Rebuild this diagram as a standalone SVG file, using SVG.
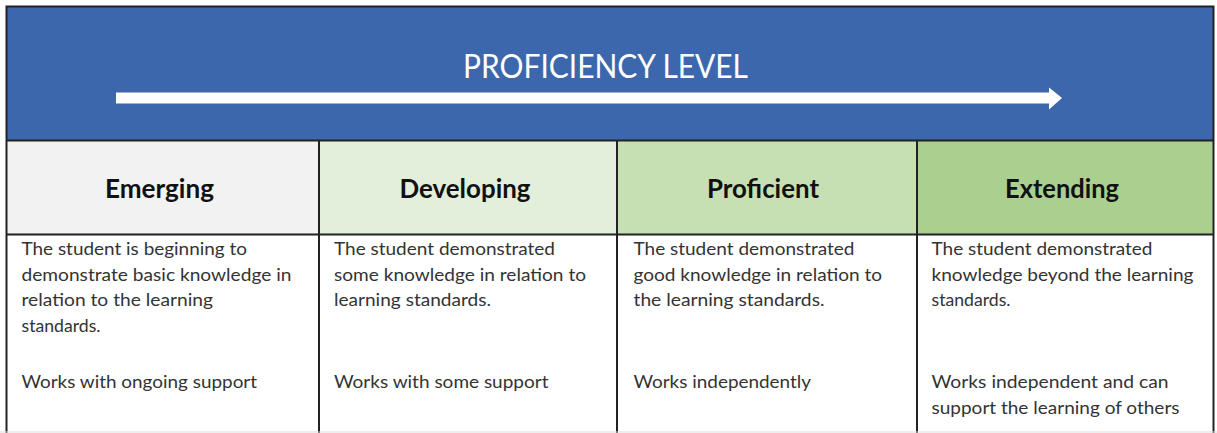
<svg xmlns="http://www.w3.org/2000/svg" width="1217" height="433" viewBox="0 0 1217 433">
  <style>
    .title { font-family: Lato, "Liberation Sans", sans-serif; font-size: 32px; fill: #ffffff; }
    .head { font-family: Lato, "Liberation Sans", sans-serif; font-size: 26px; font-weight: bold; fill: #111111; text-anchor: start; }
    .body { font-family: Lato, "Liberation Sans", sans-serif; font-size: 17px; fill: #333333; }
    .rule { stroke: #222222; stroke-width: 2; fill: none; }
  </style>
  <rect x="0" y="0" width="1217" height="433" fill="#ffffff"/>

  <g id="banner">
    <rect x="7" y="7" width="1206" height="133" fill="#3d67ad"/>
    <text class="title" x="463" y="78" textLength="285" lengthAdjust="spacingAndGlyphs">PROFICIENCY LEVEL</text>
  </g>

  <g id="arrow">
    <polygon points="116,92.5 1049,92.5 1049,87.5 1062,98 1049,109.5 1049,103.5 116,103.5" fill="#ffffff"/>
  </g>

  <g id="emerging">
    <rect x="7" y="140" width="312" height="94" fill="#f2f2f2"/>
    <text class="head" x="105" y="198" textLength="109" lengthAdjust="spacingAndGlyphs">Emerging</text>
    <text class="body" x="21.5" y="255" textLength="225.5" lengthAdjust="spacingAndGlyphs">The student is beginning to</text>
    <text class="body" x="21.5" y="280.5" textLength="270" lengthAdjust="spacingAndGlyphs">demonstrate basic knowledge in</text>
    <text class="body" x="21.5" y="306" textLength="191.5" lengthAdjust="spacingAndGlyphs">relation to the learning</text>
    <text class="body" x="21.5" y="331.5" textLength="79" lengthAdjust="spacingAndGlyphs">standards.</text>
    <text class="body" x="21.5" y="388" textLength="235.5" lengthAdjust="spacingAndGlyphs">Works with ongoing support</text>
  </g>

  <g id="developing">
    <rect x="319" y="140" width="298" height="94" fill="#e2efda"/>
    <text class="head" x="399.5" y="198" textLength="131" lengthAdjust="spacingAndGlyphs">Developing</text>
    <text class="body" x="334" y="255" textLength="221" lengthAdjust="spacingAndGlyphs">The student demonstrated</text>
    <text class="body" x="334" y="280.5" textLength="252" lengthAdjust="spacingAndGlyphs">some knowledge in relation to</text>
    <text class="body" x="334" y="306" textLength="157" lengthAdjust="spacingAndGlyphs">learning standards.</text>
    <text class="body" x="334" y="388" textLength="214.5" lengthAdjust="spacingAndGlyphs">Works with some support</text>
  </g>

  <g id="proficient">
    <rect x="617" y="140" width="300" height="94" fill="#c6e0b4"/>
    <text class="head" x="707" y="198" textLength="112" lengthAdjust="spacingAndGlyphs">Proficient</text>
    <text class="body" x="633.5" y="255" textLength="221" lengthAdjust="spacingAndGlyphs">The student demonstrated</text>
    <text class="body" x="633.5" y="280.5" textLength="248.5" lengthAdjust="spacingAndGlyphs">good knowledge in relation to</text>
    <text class="body" x="633.5" y="306" textLength="191" lengthAdjust="spacingAndGlyphs">the learning standards.</text>
    <text class="body" x="633.5" y="388" textLength="177.5" lengthAdjust="spacingAndGlyphs">Works independently</text>
  </g>

  <g id="extending">
    <rect x="917" y="140" width="296" height="94" fill="#a9d08e"/>
    <text class="head" x="1005" y="198" textLength="114" lengthAdjust="spacingAndGlyphs">Extending</text>
    <text class="body" x="931.5" y="255" textLength="221" lengthAdjust="spacingAndGlyphs">The student demonstrated</text>
    <text class="body" x="931.5" y="280.5" textLength="262" lengthAdjust="spacingAndGlyphs">knowledge beyond the learning</text>
    <text class="body" x="931.5" y="306" textLength="79" lengthAdjust="spacingAndGlyphs">standards.</text>
    <text class="body" x="931.5" y="388" textLength="237" lengthAdjust="spacingAndGlyphs">Works independent and can</text>
    <text class="body" x="931.5" y="413.5" textLength="248" lengthAdjust="spacingAndGlyphs">support the learning of others</text>
  </g>

  <g id="connectors">
    <rect class="rule" x="6.5" y="6.5" width="1207" height="440"/>
    <line class="rule" x1="6" y1="140.5" x2="1214" y2="140.5"/>
    <line class="rule" x1="6" y1="234.5" x2="1214" y2="234.5"/>
    <line class="rule" x1="319" y1="140" x2="319" y2="433"/>
    <line class="rule" x1="617" y1="140" x2="617" y2="433"/>
    <line class="rule" x1="917" y1="140" x2="917" y2="433"/>
    <line x1="0" y1="432" x2="1217" y2="432" stroke="#dddddd" stroke-width="1"/>
  </g>
</svg>
